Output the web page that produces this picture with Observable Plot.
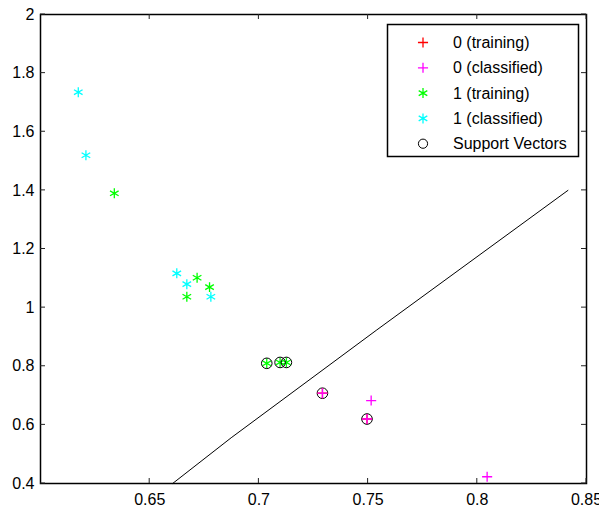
<!DOCTYPE html>
<html>
<head>
<meta charset="utf-8">
<script src="https://cdn.jsdelivr.net/npm/d3@7"></script>
<script src="https://cdn.jsdelivr.net/npm/@observablehq/plot@0.6"></script>
<style>
  body { margin: 0; background: #fff; }
  #wrap { position: relative; width: 599px; height: 506px; overflow: hidden; }
  #overlay { position: absolute; left: 0; top: 0; }
</style>
</head>
<body>
<div id="wrap"></div>
<script>
// ---- data ----
const train0X = [0.7291, 0.7495];
const train0Y = [0.708, 0.620];
const class0X = [0.7291, 0.7495, 0.7514, 0.8045];
const class0Y = [0.708, 0.620, 0.683, 0.423];
const train1X = [0.6338, 0.6717, 0.6774, 0.6670, 0.7036, 0.7097, 0.7126];
const train1Y = [1.390, 1.102, 1.070, 1.037, 0.810, 0.813, 0.813];
const class1X = [0.6173, 0.6208, 0.6624, 0.6670, 0.6780];
const class1Y = [1.735, 1.520, 1.117, 1.080, 1.037];
const svX = [0.7036, 0.7097, 0.7126, 0.7291, 0.7495];
const svY = [0.810, 0.813, 0.813, 0.708, 0.620];
const boundaryX = [0.6605, 0.6873, 0.7540, 0.8415];
const boundaryY = [0.400, 0.556, 0.924, 1.400];
const xTicks = [0.65, 0.7, 0.75, 0.8, 0.85];
const yTicks = [0.4, 0.6, 0.8, 1, 1.2, 1.4, 1.6, 1.8, 2];
const legendLabels = ["0 (training)", "0 (classified)", "1 (training)", "1 (classified)", "Support Vectors"];

const zip = (xs, ys) => xs.map((x, i) => ({x, y: ys[i]}));
const train0 = zip(train0X, train0Y);
const class0 = zip(class0X, class0Y);
const train1 = zip(train1X, train1Y);
const class1 = zip(class1X, class1Y);
const sv = zip(svX, svY);
const boundary = zip(boundaryX, boundaryY);

const FONT = "'Liberation Sans', Arial, Helvetica, sans-serif";
const fmt = d => String(+d.toFixed(2));
const PLUS_R = 3.35, AST_R = 4.7, CIRC_R = 5.3, MW = 1.3;

const W = 599, H = 506, ML = 40, MR = 13, MT = 14, MB = 23;
const TK = 5; // inward tick length

const chart = Plot.plot({
  width: W,
  height: H,
  marginLeft: ML,
  marginRight: MR,
  marginTop: MT,
  marginBottom: MB,
  style: {fontFamily: FONT, fontSize: "16px", color: "black", background: "white"},
  x: {domain: [0.6, 0.85]},
  y: {domain: [0.4, 2]},
  marks: [
    Plot.axisX(xTicks, {anchor: "bottom", tickSize: 0, tickPadding: 10, tickFormat: fmt, label: null}),
    Plot.axisY(yTicks, {anchor: "left", tickSize: 0, tickPadding: 6, tickFormat: fmt, label: null}),
    Plot.line(boundary, {x: "x", y: "y", stroke: "black", strokeWidth: 1}),
    Plot.dot(train1, {x: "x", y: "y", symbol: "asterisk", stroke: "#00ff00", r: AST_R, strokeWidth: MW}),
    Plot.dot(class1, {x: "x", y: "y", symbol: "asterisk", stroke: "#00ffff", r: AST_R, strokeWidth: MW}),
    Plot.dot(sv, {x: "x", y: "y", symbol: "circle", stroke: "black", fill: "none", r: CIRC_R, strokeWidth: 1}),
    Plot.dot(train0, {x: "x", y: "y", symbol: "plus", stroke: "#ff0000", r: PLUS_R, strokeWidth: MW}),
    Plot.dot(class0, {x: "x", y: "y", symbol: "plus", stroke: "#ff00ff", r: PLUS_R, strokeWidth: MW}),
    Plot.frame({stroke: "black", strokeWidth: 1.5})
  ]
});
document.getElementById("wrap").appendChild(chart);

// ---- overlay: inward ticks (through Plot's scales) and legend ----
const area = r => Math.PI * r * r;
const legendItems = [
  {label: legendLabels[0], symbol: d3.symbolPlus, size: area(PLUS_R), color: "#ff0000", sw: MW},
  {label: legendLabels[1], symbol: d3.symbolPlus, size: area(PLUS_R), color: "#ff00ff", sw: MW},
  {label: legendLabels[2], symbol: d3.symbolAsterisk, size: area(AST_R), color: "#00ff00", sw: MW},
  {label: legendLabels[3], symbol: d3.symbolAsterisk, size: area(AST_R), color: "#00ffff", sw: MW},
  {label: legendLabels[4], symbol: d3.symbolCircle, size: area(4.6), color: "black", sw: 1}
];
const ov = d3.select("#wrap").append("svg")
  .attr("id", "overlay").attr("width", W).attr("height", H)
  .style("font-family", FONT).style("font-size", "16px");

(function drawTicks() {
  try {
    const scaleFn = s => (s && typeof s.apply === "function") ? (v => s.apply(v)) : d3.scaleLinear(s.domain, s.range);
    const sx = scaleFn(chart.scale("x"));
    const sy = scaleFn(chart.scale("y"));
    const frameTop = MT, frameBottom = H - MB, frameLeft = ML, frameRight = W - MR;
    const tg = ov.append("g").attr("stroke", "#222").attr("stroke-width", 1);
    xTicks.forEach(v => {
      const px = sx(v);
      tg.append("line").attr("x1", px).attr("x2", px).attr("y1", frameBottom).attr("y2", frameBottom - TK);
      tg.append("line").attr("x1", px).attr("x2", px).attr("y1", frameTop).attr("y2", frameTop + TK);
    });
    yTicks.forEach(v => {
      const py = sy(v);
      tg.append("line").attr("y1", py).attr("y2", py).attr("x1", frameLeft).attr("x2", frameLeft + TK);
      tg.append("line").attr("y1", py).attr("y2", py).attr("x1", frameRight).attr("x2", frameRight - TK);
    });
  } catch (e) { console.error(e); }
})();

ov.append("rect").attr("x", 387.5).attr("y", 24.5).attr("width", 191).attr("height", 132)
  .attr("fill", "white").attr("stroke", "black").attr("stroke-width", 1.5);
const rows = ov.selectAll("g.row").data(legendItems).join("g")
  .attr("class", "row")
  .attr("transform", (d, i) => `translate(423,${42.5 + i * 25.3})`);
rows.append("path").attr("d", d => d3.symbol(d.symbol, d.size)())
  .attr("fill", "none").attr("stroke", d => d.color).attr("stroke-width", d => d.sw);
rows.append("text").attr("x", 30).attr("dy", "0.35em").text(d => d.label);
</script>
</body>
</html>
